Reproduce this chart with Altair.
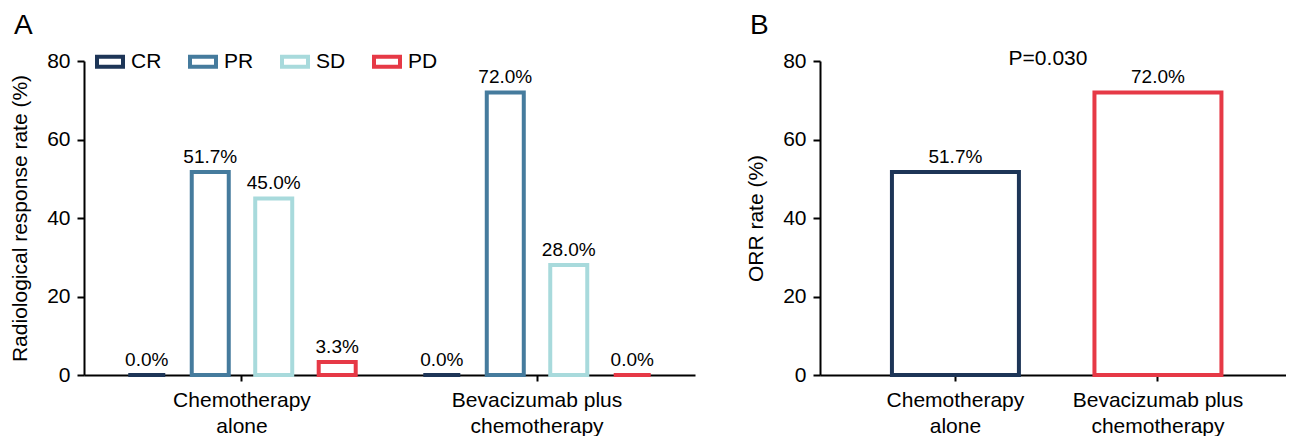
import json
import altair as alt
import pandas as pd

# ---- data ----
groups = ["Chemotherapy alone", "Bevacizumab plus chemotherapy"]
group_lines = [["Chemotherapy", "alone"], ["Bevacizumab plus", "chemotherapy"]]
responses = ["CR", "PR", "SD", "PD"]
chemo_vals = [0.0, 51.7, 45.0, 3.3]
bev_vals = [0.0, 72.0, 28.0, 0.0]
resp_colors = ["#1d3557", "#457b9d", "#a8dadc", "#e63946"]

orr_vals = [51.7, 72.0]
orr_colors = ["#1d3557", "#e63946"]
p_text = "P=0.030"
y_ticks = [0, 20, 40, 60, 80]

FONT = "Liberation Sans"

rowsA = []
for g, vals in zip(groups, [chemo_vals, bev_vals]):
    for r, v in zip(responses, vals):
        rowsA.append({"group": g, "response": r, "value": v})
dfA = pd.DataFrame(rowsA)
dfB = pd.DataFrame({"group": groups, "value": orr_vals})

label_expr = " : ".join(
    f"datum.value == {json.dumps(g)} ? {json.dumps(l)}" for g, l in zip(groups, group_lines)
) + " : datum.value"

x_axis = alt.Axis(title=None, labelAngle=0, tickSize=6, labelPadding=8,
                  labelLineHeight=26, labelExpr=label_expr, labelFontSize=21)

def y_axis(title):
    return alt.Axis(title=title, values=y_ticks, tickSize=7, labelPadding=7,
                    titlePadding=16, labelFontSize=21, titleFontSize=21)

y_scale = alt.Scale(domain=[0, 80], nice=False)

# ---- panel A ----
baseA = alt.Chart(dfA).transform_calculate(
    label="format(datum.value, '.1f') + '%'"
).encode(
    x=alt.X("group:N", sort=groups, axis=x_axis,
            scale=alt.Scale(paddingInner=0.143, paddingOuter=0.107)),
    xOffset=alt.XOffset("response:N", sort=responses,
                        scale=alt.Scale(paddingInner=0.417, paddingOuter=0.2)),
    y=alt.Y("value:Q", scale=y_scale, axis=y_axis("Radiological response rate (%)")),
)
barsA = baseA.mark_bar(fill="white", strokeWidth=4).encode(
    stroke=alt.Stroke("response:N", sort=responses,
                      scale=alt.Scale(domain=responses, range=resp_colors),
                      legend=alt.Legend(
                          title=None, orient="none", direction="horizontal",
                          legendX=15.5, legendY=-10, padding=0,
                          symbolType="M-2.6,-1H2.6V1H-2.6Z", symbolSize=100,
                          symbolStrokeWidth=4, symbolFillColor="white",
                          labelFontSize=21, labelOffset=10.5, columnPadding=20,
                          labelColor="black", labelFont=FONT)),
)
textA = baseA.mark_text(dy=-9, fontSize=19, baseline="alphabetic", color="black").encode(
    text="label:N")
letterA = alt.Chart(pd.DataFrame({"t": ["A"]})).mark_text(
    align="left", baseline="alphabetic", fontSize=28, color="black"
).encode(x=alt.value(-70), y=alt.value(-27), text="t:N")

chartA = alt.layer(barsA, textA, letterA).properties(width=611, height=314)

# ---- panel B ----
baseB = alt.Chart(dfB).transform_calculate(
    label="format(datum.value, '.1f') + '%'"
).encode(
    x=alt.X("group:N", sort=groups, axis=x_axis,
            scale=alt.Scale(paddingInner=0.373, paddingOuter=0.337, align=0.527)),
    y=alt.Y("value:Q", scale=y_scale, axis=y_axis("ORR rate (%)")),
)
barsB = baseB.mark_bar(fill="white", strokeWidth=4).encode(
    stroke=alt.Stroke("group:N", sort=groups,
                      scale=alt.Scale(domain=groups, range=orr_colors), legend=None),
)
textB = baseB.mark_text(dy=-9, fontSize=19, baseline="alphabetic", color="black").encode(
    text="label:N")
letterB = alt.Chart(pd.DataFrame({"t": ["B"]})).mark_text(
    align="left", baseline="alphabetic", fontSize=28, color="black"
).encode(x=alt.value(-70), y=alt.value(-27), text="t:N")
pB = alt.Chart(pd.DataFrame({"t": [p_text]})).mark_text(
    align="center", baseline="alphabetic", fontSize=21, color="black"
).encode(x=alt.value(228), y=alt.value(4), text="t:N")

chartB = alt.layer(barsB, textB, letterB, pB).properties(width=466, height=314)

chart = alt.hconcat(chartA, chartB, spacing=50).resolve_scale(
    x="independent", y="independent", stroke="independent", xOffset="independent"
).configure(
    padding={"left": 1, "top": 4, "right": 0, "bottom": 0},
    font=FONT,
).configure_view(stroke=None).configure_axis(
    grid=False, domainColor="black", domainWidth=2, tickColor="black", tickWidth=2,
    labelColor="black", titleColor="black", titleFontWeight="normal",
    labelFont=FONT, titleFont=FONT,
)

chart.save("out.html", embed_options={"renderer": "svg", "actions": False})
